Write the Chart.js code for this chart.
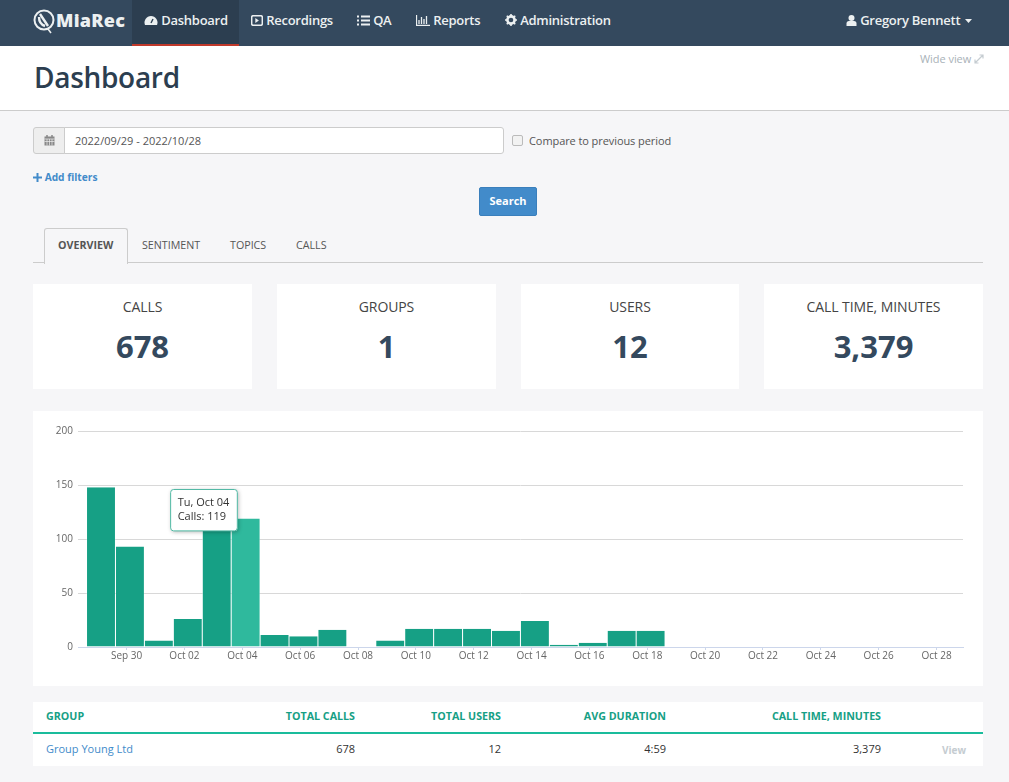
<!DOCTYPE html>
<html>
<head>
<meta charset="utf-8">
<title>Dashboard</title>
<script src="https://cdn.jsdelivr.net/npm/chart.js@4/dist/chart.umd.js"></script>
<style>
  html, body { margin: 0; padding: 0; }
  body { width: 1009px; height: 782px; overflow: hidden; position: relative; background: #f6f6f8; font-family: "Open Sans", sans-serif; color: #333; }
  .abs { position: absolute; white-space: nowrap; }
  svg { vertical-align: -1px; }

  #nav { left: 0; top: 0; width: 1009px; height: 46px; background: #34495e; }
  #navActive { left: 132px; top: 0; width: 107px; height: 44px; background: #2c3e50; border-bottom: 2px solid #c0392b; }
  .navItem { top: 11px; font-size: 13px; line-height: 18px; color: #ecf0f1; font-weight: 600; letter-spacing: -.25px; }
  #logo { left: 56px; top: 8px; font-size: 18px; line-height: 24px; font-weight: 800; color: #ecf0f1; letter-spacing: .3px; }

  #head { left: 0; top: 46px; width: 1009px; height: 64px; background: #fff; border-bottom: 1px solid #ccc; }
  #title { left: 34px; top: 59px; font-size: 28px; line-height: 37px; color: #2c3e50; font-weight: 600; letter-spacing: -.3px; }
  #wide { left: 920px; top: 52px; font-size: 11px; line-height: 14px; color: #a9b2b8; letter-spacing: -.05px; }

  #calBtn { left: 33px; top: 127px; width: 31px; height: 25px; background: #eee; border: 1px solid #ccc; border-radius: 3px 0 0 3px; text-align: center; }
  #dateBox { left: 64px; top: 127px; width: 428px; height: 25px; padding-left: 10px; background: #fff; border: 1px solid #ccc; border-radius: 0 3px 3px 0; font-size: 11px; line-height: 26px; color: #555; }
  #cmpBox { left: 512px; top: 135px; width: 9px; height: 9px; border: 1px solid #bbb; border-radius: 2px; background: #f2f2f2; }
  #cmp { left: 529px; top: 133px; font-size: 11px; line-height: 15px; color: #555; letter-spacing: -.08px; }
  #addF { left: 33px; top: 170px; font-size: 10.2px; line-height: 14px; color: #428bca; font-weight: 700; }
  #search { left: 479px; top: 187px; width: 58px; height: 29px; background: #428bca; border-radius: 2px; box-sizing: border-box; border: 1px solid #3a7fbc; color: #fff; font-size: 11px; font-weight: 700; line-height: 26px; text-align: center; }

  #tabLine { left: 33px; top: 262px; width: 950px; height: 1px; background: #ccc; }
  #tabOn { left: 44px; top: 228px; width: 82px; height: 35px; background: #f6f6f8; border: 1px solid #ccc; border-bottom: 0; border-radius: 3px 3px 0 0; }
  .tab { top: 238px; font-size: 10.7px; line-height: 14px; color: #555; }

  .card { top: 284px; height: 105px; background: #fff; text-align: center; }
  .card .lab { margin-top: 14px; font-size: 14px; line-height: 18px; color: #444; letter-spacing: -.1px; }
  .card .val { margin-top: 9px; font-size: 31px; line-height: 42px; font-weight: 700; color: #34495e; }

  #chartBox { left: 33px; top: 411px; width: 950px; height: 275px; background: #fff; }

  #tbl { left: 33px; top: 702px; width: 950px; height: 64px; background: #fff; }
  #tblLine { left: 33px; top: 732px; width: 950px; height: 2px; background: #1abc9c; }
  .th { top: 709px; font-size: 10.7px; line-height: 14px; font-weight: 700; color: #16a085; }
  .td { top: 741px; font-size: 11px; line-height: 15px; color: #333; }
  .r { transform: translateX(-100%); }
</style>
</head>
<body>

<div class="abs" id="nav"></div>
<div class="abs" id="navActive"></div>
<svg class="abs" style="left:33px;top:9px" width="23" height="25" viewBox="0 0 23 25"><circle cx="11" cy="11" r="9.5" fill="none" stroke="#ecf0f1" stroke-width="2"/><path d="M7 5l8 12M6 8q0 7 6 9" fill="none" stroke="#ecf0f1" stroke-width="2.4"/><path d="M15 20l3 4" stroke="#ecf0f1" stroke-width="1.5"/></svg>
<div class="abs" id="logo">MiaRec</div>
<div class="abs navItem" style="left:144px"><svg width="14" height="11" viewBox="0 0 14 11"><path d="M1 10a6.5 6.5 0 1 1 12 0z" fill="#ecf0f1"/><path d="M7 8l2-4" stroke="#2c3e50" stroke-width="1.4"/></svg> Dashboard</div>
<div class="abs navItem" style="left:251px"><svg width="12" height="11" viewBox="0 0 12 11"><rect x=".7" y=".7" width="10.6" height="9.6" rx="1.5" fill="none" stroke="#ecf0f1" stroke-width="1.5"/><path d="M4.3 3v5l3.6-2.5z" fill="#ecf0f1"/></svg> Recordings</div>
<div class="abs navItem" style="left:357px"><svg width="13" height="11" viewBox="0 0 13 11"><path d="M0 1.5h2M4 1.5h9M0 5.5h2M4 5.5h9M0 9.5h2M4 9.5h9" stroke="#ecf0f1" stroke-width="2"/></svg> QA</div>
<div class="abs navItem" style="left:416px"><svg width="14" height="11" viewBox="0 0 14 11"><path d="M.5 0v10.5H14M3 9V5M5.5 9V2M8 9V4M10.5 9V1" fill="none" stroke="#ecf0f1" stroke-width="1.3"/></svg> Reports</div>
<div class="abs navItem" style="left:505px"><svg width="12" height="12" viewBox="0 0 12 12"><circle cx="6" cy="6" r="3.6" fill="none" stroke="#ecf0f1" stroke-width="2.6"/><path d="M6 0v12M0 6h12M1.8 1.8l8.4 8.4M10.2 1.8l-8.4 8.4" stroke="#ecf0f1" stroke-width="1.6" stroke-dasharray="2 8"/></svg> Administration</div>
<div class="abs navItem" style="left:846px"><svg width="11" height="11" viewBox="0 0 11 11"><circle cx="5.5" cy="3" r="3" fill="#ecf0f1"/><path d="M.5 11V8.500q0-2.500 2.500-2.500h5q2.500 0 2.500 2.500V11z" fill="#ecf0f1"/></svg> Gregory Bennett <svg width="8" height="4" viewBox="0 0 8 4" style="vertical-align:2px;margin-left:2px"><path d="M0 0h7L3.500 4z" fill="#ecf0f1"/></svg></div>

<div class="abs" id="head"></div>
<div class="abs" id="title">Dashboard</div>
<div class="abs" id="wide">Wide view <svg width="10" height="10" viewBox="0 0 10 10"><path d="M1 9l8-8M5.500 1H9v3.500M1 5.500V9h3.500" fill="none" stroke="#c5ccd1" stroke-width="1.200"/></svg></div>

<div class="abs" id="calBtn"><svg width="11" height="11" viewBox="0 0 11 11" style="margin-top:7px;vertical-align:top"><rect x=".5" y="1.500" width="10" height="9" fill="#888"/><path d="M3 0v3M8 0v3" stroke="#888" stroke-width="1.500"/><path d="M.5 4h10M.5 6.500h10M3 4v6.500M5.500 4v6.500M8 4v6.500" stroke="#eee" stroke-width=".7"/></svg></div>
<div class="abs" id="dateBox">2022/09/29 - 2022/10/28</div>
<div class="abs" id="cmpBox"></div>
<div class="abs" id="cmp">Compare to previous period</div>
<div class="abs" id="addF"><svg width="9" height="9" viewBox="0 0 9 9" style="vertical-align:-1px"><path d="M4.500 0v9M0 4.500h9" stroke="#428bca" stroke-width="2"/></svg> Add filters</div>
<div class="abs" id="search">Search</div>

<div class="abs" id="tabLine"></div>
<div class="abs" id="tabOn"></div>
<div class="abs tab" style="left:58px;font-weight:700">OVERVIEW</div>
<div class="abs tab" style="left:142px">SENTIMENT</div>
<div class="abs tab" style="left:230px">TOPICS</div>
<div class="abs tab" style="left:296px">CALLS</div>

<div class="abs card" style="left:33px;width:219px"><div class="lab">CALLS</div><div class="val">678</div></div>
<div class="abs card" style="left:277px;width:219px"><div class="lab">GROUPS</div><div class="val">1</div></div>
<div class="abs card" style="left:521px;width:218px"><div class="lab">USERS</div><div class="val">12</div></div>
<div class="abs card" style="left:764px;width:219px"><div class="lab">CALL TIME, MINUTES</div><div class="val">3,379</div></div>

<div class="abs" id="chartBox"><canvas id="chartCalls" width="950" height="275"></canvas></div>

<div class="abs" id="tbl"></div>
<div class="abs" id="tblLine"></div>
<div class="abs th" style="left:46px">GROUP</div>
<div class="abs th r" style="left:355px">TOTAL CALLS</div>
<div class="abs th r" style="left:501px">TOTAL USERS</div>
<div class="abs th r" style="left:666px">AVG DURATION</div>
<div class="abs th r" style="left:881px">CALL TIME, MINUTES</div>
<div class="abs td" style="left:46px;color:#428bca">Group Young Ltd</div>
<div class="abs td r" style="left:355px">678</div>
<div class="abs td r" style="left:501px">12</div>
<div class="abs td r" style="left:666px">4:59</div>
<div class="abs td r" style="left:881px">3,379</div>
<div class="abs td r" style="left:966px;top:743px;font-size:10px;font-weight:700;color:#c5ccd1">View</div>

<script>
'use strict'

var days = ['Sep 29', 'Sep 30', 'Oct 01', 'Oct 02', 'Oct 03', 'Oct 04', 'Oct 05', 'Oct 06', 'Oct 07', 'Oct 08',
    'Oct 09', 'Oct 10', 'Oct 11', 'Oct 12', 'Oct 13', 'Oct 14', 'Oct 15', 'Oct 16', 'Oct 17', 'Oct 18',
    'Oct 19', 'Oct 20', 'Oct 21', 'Oct 22', 'Oct 23', 'Oct 24', 'Oct 25', 'Oct 26', 'Oct 27', 'Oct 28'];
var weekDays = ['Th', 'Fr', 'Sa', 'Su', 'Mo', 'Tu', 'We'];
var calls = [148, 93, 6, 26, 113, 119, 11, 10, 16, 0,
    6, 17, 17, 17, 15, 24, 2, 4, 15, 15,
    0, 0, 0, 0, 0, 0, 0, 0, 0, 0];
var xTickLabels = ['Sep 30', 'Oct 02', 'Oct 04', 'Oct 06', 'Oct 08', 'Oct 10', 'Oct 12', 'Oct 14',
    'Oct 16', 'Oct 18', 'Oct 20', 'Oct 22', 'Oct 24', 'Oct 26', 'Oct 28'];
var yTicks = [0, 50, 100, 150, 200];
var activeDay = 'Oct 04';

var activeIndex = days.indexOf(activeDay);

// the labelled ticks sit a bit left of the bar centres, like in the original
var tickShift = 0.115;

Chart.Tooltip.positioners.nextToBar = function (items) {
    if (!items.length) return false;
    return { x: items[0].element.x - 72, y: items[0].element.y - 29 };
};

var tooltipShadow = {
    id: 'tooltipShadow',
    beforeTooltipDraw: function (chart, args) {
        var t = args.tooltip, ctx = chart.ctx;
        ctx.save();
        ctx.shadowColor = 'rgba(0,0,0,.3)';
        ctx.shadowBlur = 4;
        ctx.shadowOffsetX = 1;
        ctx.shadowOffsetY = 1;
        ctx.fillStyle = '#fff';
        ctx.beginPath();
        ctx.roundRect(t.x, t.y, t.width, t.height, 3);
        ctx.fill();
        ctx.restore();
    }
};

var ctx = document.getElementById('chartCalls');
var barChart = new Chart(ctx, {
    type: 'bar',
    data: {
        datasets: [{
            label: 'Calls',
            data: calls.map(function (v, i) { return { x: i, y: v }; }),
            backgroundColor: calls.map(function (v, i) { return i === activeIndex ? '#2fb99d' : '#16a085'; }),
            hoverBackgroundColor: calls.map(function (v, i) { return i === activeIndex ? '#2fb99d' : '#16a085'; }),
            borderColor: '#fff',
            hoverBorderColor: '#fff',
            borderWidth: { left: 0.5, right: 0.5, top: 0, bottom: 0 },
            inflateAmount: 0,
            barThickness: 28.93
        }]
    },
    options: {
        responsive: false,
        animation: false,
        events: [],
        layout: { padding: { top: 20, right: 20, left: 0, bottom: 0 } },
        plugins: {
            legend: { display: false },
            tooltip: {
                position: 'nextToBar',
                xAlign: 'left',
                yAlign: 'top',
                caretSize: 0,
                caretPadding: 0,
                cornerRadius: 3,
                padding: { left: 7, right: 8, top: 7, bottom: 7 },
                backgroundColor: '#fff',
                borderColor: '#4fb8a3',
                borderWidth: 1,
                titleColor: '#333',
                bodyColor: '#333',
                titleFont: { family: '"Open Sans"', size: 11, weight: 'normal' },
                bodyFont: { family: '"Open Sans"', size: 11 },
                titleMarginBottom: 1,
                displayColors: false,
                callbacks: {
                    title: function (items) {
                        var i = items[0].dataIndex;
                        return weekDays[i % 7] + ', ' + days[i];
                    },
                    label: function (item) {
                        return 'Calls: ' + item.parsed.y;
                    }
                }
            }
        },
        scales: {
            x: {
                type: 'linear',
                offset: false,
                min: -0.795,
                max: 29.8,
                afterBuildTicks: function (scale) {
                    // every second day, starting from the first label
                    scale.ticks = xTickLabels.map(function (name) {
                        return { value: days.indexOf(name) - tickShift, label: name };
                    });
                },
                afterFit: function (scale) { scale.height = 39; },
                border: { color: '#ccd6eb' },
                grid: { offset: false, drawOnChartArea: false, color: '#ccd6eb', tickLength: 3 },
                ticks: {
                    autoSkip: false,
                    maxRotation: 0,
                    padding: 0,
                    color: '#666',
                    font: { family: '"Open Sans"', size: 10 },
                    callback: function (value, index) { return xTickLabels[index]; }
                }
            },
            y: {
                min: yTicks[0],
                max: yTicks[yTicks.length - 1],
                afterFit: function (scale) { scale.width = 45; },
                border: { display: false },
                grid: { color: '#d8d8d8', drawTicks: false },
                ticks: {
                    stepSize: yTicks[1] - yTicks[0],
                    padding: 5,
                    color: '#666',
                    font: { family: '"Open Sans"', size: 10 }
                }
            }
        }
    },
    plugins: [tooltipShadow]
});

barChart.tooltip.setActiveElements([{ datasetIndex: 0, index: activeIndex }], { x: 0, y: 0 });
barChart.update('none');
</script>
</body>
</html>
